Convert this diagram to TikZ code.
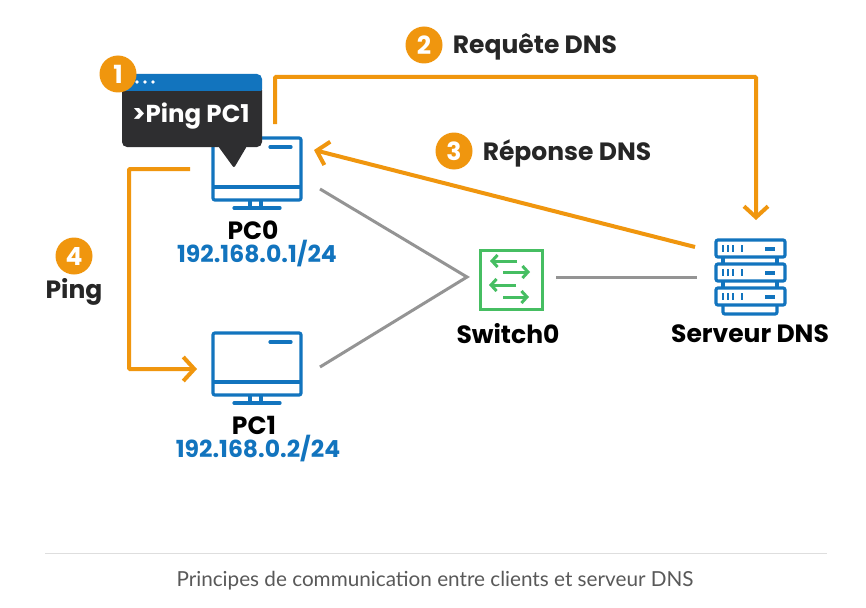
\documentclass[tikz,border=0pt]{standalone}
\usepackage{fontspec}
\setmainfont{Poppins}
\newfontfamily\capfont{Lato}
\usetikzlibrary{arrows.meta}
\definecolor{orangeline}{HTML}{F0960E}
\definecolor{greyline}{HTML}{949494}
\definecolor{blueicon}{HTML}{1274BE}
\definecolor{greenicon}{HTML}{46BE62}
\definecolor{darkbox}{HTML}{2E2E30}
\tikzset{
  flow/.style={draw=orangeline,line width=4pt,-{Straight Barb[length=11pt,width=24pt,line width=4pt]}},
  link/.style={draw=greyline,line width=3pt},
  blueline/.style={draw=blueicon,line width=3.2pt},
  swarrow/.style={draw=greenicon,line width=3pt,-{Straight Barb[length=5.5pt,width=12pt,line width=3pt]}},
  badge/.style={circle,fill=orangeline,text=white,minimum size=37pt,inner sep=0pt,font=\fontsize{25}{25}\selectfont\bfseries},
  devname/.style={text=black,inner sep=0pt,font=\fontsize{25}{25}\selectfont\bfseries},
  ipaddr/.style={text=blueicon,inner sep=0pt,font=\fontsize{23.5}{24}\selectfont\bfseries},
  stepname/.style={text=black!85,inner sep=0pt,font=\fontsize{25}{25}\selectfont\bfseries}
}
\newcommand{\pcicon}[2]{
\begin{scope}[shift={(#1,#2)}]
\draw [blueline,rounded corners=2pt] (213,138) rectangle (301,200);
\draw [blueline] (213,187) -- (301,187);
\draw [blueline,line cap=round] (270,147) -- (291,147);
\draw [blueline] (250,200) -- (250,208);
\draw [blueline] (261,200) -- (261,208);
\draw [blueline,line cap=round] (234,208) -- (280,208);
\end{scope}
}
\newcommand{\srvunit}[1]{
\draw [blueline,rounded corners=2pt] (716,#1) rectangle (785,#1+17);
\foreach \tickx in {723,728,733,742}
  \draw [blueline,line width=2.4pt] (\tickx,#1+5) -- (\tickx,#1+12);
\draw [blueline] (765,#1+9) -- (775,#1+9);
}

\begin{document}
\begin{tikzpicture}[x=1pt,y=-1pt]
\useasboundingbox [fill=white] (0,0) rectangle (866,607);

\coordinate (reqA) at (275,124);
\coordinate (reqB) at (275,77);
\coordinate (reqC) at (756,77);
\coordinate (reqD) at (756,220);
\draw [flow,rounded corners=1pt] (reqA) -- (reqB) -- (reqC) -- (reqD);

\coordinate (repA) at (695,247);
\coordinate (repB) at (314,150);
\draw [flow] (repA) -- (repB);

\coordinate (pingA) at (190,169);
\coordinate (pingB) at (129,169);
\coordinate (pingC) at (129,369);
\coordinate (pingD) at (197,369);
\draw [flow,rounded corners=1pt] (pingA) -- (pingB) -- (pingC) -- (pingD);

\coordinate (pcZeroEnd) at (320,189);
\coordinate (pcOneEnd) at (320,367);
\coordinate (swLeft) at (467,277);
\coordinate (swRight) at (556,277);
\coordinate (srvLeft) at (697,277);
\draw [link] (pcZeroEnd) -- (swLeft) -- (pcOneEnd);
\draw [link] (swRight) -- (srvLeft);

\pcicon{0}{0}
\pcicon{0}{195}

\fill [darkbox,rounded corners=5pt] (122,85) rectangle (262,147);
\fill [darkbox,rounded corners=2pt] (218,146) -- (247,146) -- (234,168) -- cycle;
\fill [blueicon,rounded corners=5pt] (122,74) rectangle (262,94);
\fill [darkbox] (122,91) rectangle (262,96);
\foreach \dotx in {137,145,153}
  \fill [white] (\dotx,82) circle[radius=1.8pt];
\node (pingText) at (191,116) [text=white,inner sep=0pt,font=\fontsize{24.5}{25}\selectfont\bfseries] {>Ping PC1};

\node (stepOne) at (118,74) [badge] {1};
\node (stepTwo) at (424,45) [badge] {2};
\node (stepThree) at (454,151) [badge] {3};
\node (stepFour) at (74,256) [badge] {4};

\node (reqLabel) at (535,47) [stepname] {Requête DNS};
\node (repLabel) at (567,153) [stepname] {Réponse DNS};
\node (pingLabel) at (74,292) [stepname] {Ping};

\node (pcZero) at (253,230) [devname] {PC0};
\node (pcZeroIp) at (257,254) [ipaddr] {192.168.0.1/24};
\node (pcOne) at (254,425) [devname] {PC1};
\node (pcOneIp) at (258,449) [ipaddr] {192.168.0.2/24};

\draw [greenicon,line width=3pt] (480,250) rectangle (542,309);
\draw [swarrow] (517,261) -- (490,261);
\draw [swarrow] (503,272) -- (530,272);
\draw [swarrow] (516,285) -- (489,285);
\draw [swarrow] (503,297) -- (529,297);
\node (swName) at (508,334) [devname] {Switch0};

\srvunit{240}
\srvunit{264}
\srvunit{288}
\draw [blueline] (723,257) -- (723,264);
\draw [blueline] (777,257) -- (777,264);
\draw [blueline] (723,281) -- (723,288);
\draw [blueline] (777,281) -- (777,288);
\draw [blueline,rounded corners=2pt] (723,305) -- (723,314) -- (777,314) -- (777,305);
\node (srvName) at (750,334) [devname] {Serveur DNS};

\coordinate (ruleA) at (45,553);
\coordinate (ruleB) at (827,553);
\draw [black!13,line width=0.8pt] (ruleA) -- (ruleB);
\node (caption) at (435,581) [text=black!65,inner sep=0pt,font=\capfont\fontsize{20.7}{21}\selectfont] {Principes de communication entre clients et serveur DNS};
\end{tikzpicture}
\end{document}
